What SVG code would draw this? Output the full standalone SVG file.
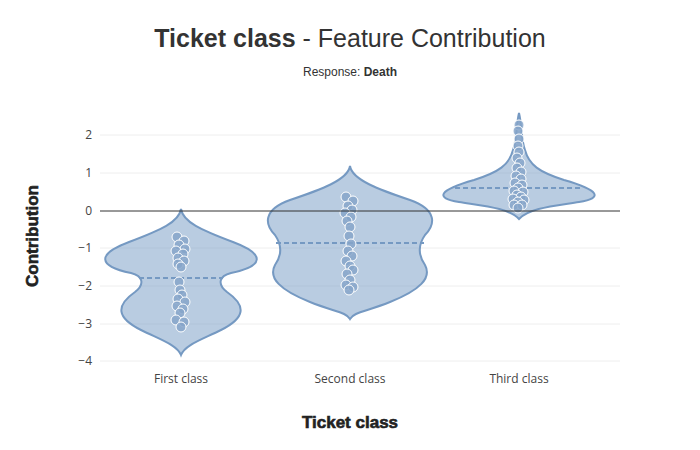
<svg xmlns="http://www.w3.org/2000/svg" width="700" height="450" viewBox="0 0 700 450">
<style>
.grid{stroke:#eee;stroke-width:1}
.tick{font-family:"Open Sans",sans-serif;font-size:12px;fill:#444}
.vio{fill:#7499c4;fill-opacity:0.5;stroke:#7599c2;stroke-width:2}
.med{stroke:#7599c2;stroke-width:2;stroke-dasharray:5,3}
.pt circle{fill:#86a4c9;fill-opacity:0.85;stroke:#fff;stroke-width:1}
.axt{font-family:"Liberation Sans",Arial,sans-serif;font-weight:900;font-size:17px;fill:#222;stroke:#222;stroke-width:0.6}
</style>
<rect width="700" height="450" fill="#fff"/>
<g id="grid">
<line class="grid" x1="100" x2="620" y1="135" y2="135"/>
<line class="grid" x1="100" x2="620" y1="173" y2="173"/>
<line class="grid" x1="100" x2="620" y1="248" y2="248"/>
<line class="grid" x1="100" x2="620" y1="286" y2="286"/>
<line class="grid" x1="100" x2="620" y1="324" y2="324"/>
<line class="grid" x1="100" x2="620" y1="361" y2="361"/>
</g>
<g id="yticks" class="tick" text-anchor="end">
<text x="92" y="139">2</text><text x="92" y="177">1</text><text x="92" y="215">0</text>
<text x="92" y="252">−1</text><text x="92" y="290">−2</text><text x="92" y="328">−3</text><text x="92" y="365">−4</text>
</g>
<g id="xticks" class="tick" text-anchor="middle">
<text x="181" y="383">First class</text><text x="350" y="383">Second class</text><text x="519" y="383">Third class</text>
</g>
<g id="v1">
<path class="vio" d="M181,209 C183,222 201,230 233,242 C265,254 265,266 231,273 C219,276 217,284 227,292 C247,306 245,318 221,330 C201,340 185,345 181,355 C177,345 161,340 141,330 C117,318 115,306 135,292 C145,284 143,276 131,273 C97,266 97,254 129,242 C161,230 179,222 181,209 Z"/>
<line class="med" x1="139" x2="223" y1="278" y2="278"/>
<g class="pt">
<circle cx="177" cy="237" r="5"/><circle cx="184" cy="241" r="5"/><circle cx="179" cy="245" r="5"/><circle cx="185" cy="249" r="5"/><circle cx="176" cy="251" r="5"/><circle cx="183" cy="254" r="5"/><circle cx="178" cy="258" r="5"/><circle cx="184" cy="261" r="5"/><circle cx="178" cy="264" r="5"/><circle cx="181" cy="267" r="5"/>
<circle cx="179" cy="282" r="5"/><circle cx="180" cy="290" r="5"/><circle cx="182" cy="295" r="5"/><circle cx="178" cy="299" r="5"/><circle cx="185" cy="302" r="5"/><circle cx="177" cy="306" r="5"/><circle cx="183" cy="309" r="5"/><circle cx="180" cy="313" r="5"/><circle cx="176" cy="320" r="5"/><circle cx="184" cy="322" r="5"/><circle cx="181" cy="327" r="5"/>
</g>
</g>
<g id="v2">
<path class="vio" d="M350,166 C352,180 380,190 410,200 C438,210 435,225 425,235 C418,245 418,255 425,265 C432,278 420,290 390,302 C365,312 354,312 350,319 C346,312 335,312 310,302 C280,290 268,278 275,265 C282,255 282,245 275,235 C265,225 262,210 290,200 C320,190 348,180 350,166 Z"/>
<line class="med" x1="276" x2="424" y1="243" y2="243"/>
<g class="pt">
<circle cx="346" cy="197" r="5"/><circle cx="353" cy="201" r="5"/><circle cx="348" cy="206" r="5"/><circle cx="352" cy="210" r="5"/><circle cx="345" cy="213" r="5"/><circle cx="351" cy="217" r="5"/><circle cx="347" cy="221" r="5"/><circle cx="350" cy="227" r="5"/><circle cx="349" cy="236" r="5"/><circle cx="351" cy="244" r="5"/><circle cx="348" cy="251" r="5"/><circle cx="352" cy="256" r="5"/><circle cx="346" cy="261" r="5"/><circle cx="350" cy="266" r="5"/><circle cx="353" cy="270" r="5"/><circle cx="347" cy="274" r="5"/><circle cx="350" cy="280" r="5"/><circle cx="346" cy="285" r="5"/><circle cx="353" cy="287" r="5"/><circle cx="349" cy="290" r="5"/>
</g>
</g>
<g id="v3">
<path class="vio" d="M519,113 C522,125 521,140 525,150 C529,165 539,172 564,180 C599,190 604,198 579,202 C554,206 529,208 519,219 C509,208 484,206 459,202 C434,198 439,190 474,180 C499,172 509,165 513,150 C517,140 516,125 519,113 Z"/>
<line class="med" x1="455" x2="583" y1="188" y2="188"/>
<g class="pt">
<circle cx="519" cy="125" r="5"/><circle cx="518" cy="131" r="5"/><circle cx="519" cy="139" r="5"/><circle cx="518" cy="146" r="5"/><circle cx="519" cy="152" r="5"/><circle cx="517" cy="158" r="5"/><circle cx="520" cy="163" r="5"/><circle cx="517" cy="168" r="5"/><circle cx="521" cy="172" r="5"/><circle cx="516" cy="176" r="5"/><circle cx="521" cy="179" r="5"/><circle cx="515" cy="183" r="5"/><circle cx="522" cy="185" r="5"/><circle cx="518" cy="188" r="5"/><circle cx="514" cy="191" r="5"/><circle cx="523" cy="192" r="5"/><circle cx="517" cy="195" r="5"/><circle cx="521" cy="197" r="5"/><circle cx="513" cy="199" r="5"/><circle cx="524" cy="200" r="5"/><circle cx="518" cy="202" r="5"/><circle cx="514" cy="205" r="5"/><circle cx="522" cy="205" r="5"/><circle cx="518" cy="208" r="5"/>
</g>
</g>
<line id="zero" x1="100" x2="620" y1="211" y2="211" stroke="#333" stroke-width="1"/>
<g id="titles">
<text x="350" y="47" text-anchor="middle" font-family="'Liberation Sans',Arial,sans-serif" font-size="25" fill="#333"><tspan font-weight="bold">Ticket class</tspan> - Feature Contribution</text>
<text x="350" y="76" text-anchor="middle" font-family="'Liberation Sans',Arial,sans-serif" font-size="12" fill="#333">Response: <tspan font-weight="bold">Death</tspan></text>
<text class="axt" x="350" y="428" text-anchor="middle">Ticket class</text>
<text class="axt" transform="translate(38,236) rotate(-90)" text-anchor="middle">Contribution</text>
</g>
</svg>
